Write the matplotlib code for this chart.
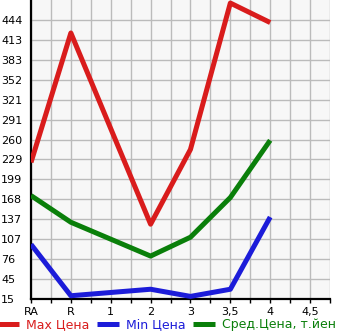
import matplotlib.pyplot as plt
import numpy as np

categories = ["RA", "R", "1", "2", "3", "3,5", "4", "4,5"]
max_price = [225, 424, np.nan, 130, 245, 470, 440, np.nan]
min_price = [99, 20, np.nan, 30, 19, 30, 141, np.nan]
avg_price = [174, 133, np.nan, 81, 110, 171, 259, np.nan]
y_ticks = [15 + 30.646 * k for k in range(15)]
y_labels = ["15", "45", "76", "107", "137", "168", "199", "229",
            "260", "291", "321", "352", "383", "413", "444"]

series = [
    ("Max Цена", max_price, "#d91c1c"),
    ("Min Цена", min_price, "#1c1cd9"),
    ("Сред.Цена, т.йен", avg_price, "#0a7f0a"),
]

W, H = 345, 335
fig = plt.figure(figsize=(W / 100, H / 100), dpi=100)
ax = fig.add_axes([31 / W, (H - 299) / H, (330 - 31) / W, 299 / H])
ax.set_facecolor("#f7f7f7")

x_all = np.arange(len(categories))
for label, vals, color in series:
    v = np.array(vals, dtype=float)
    ok = ~np.isnan(v)
    ax.plot(x_all[ok], v[ok], color=color, lw=3.6, label=label,
            solid_capstyle="butt", zorder=3)

ax.set_xlim(0, 7.5)
ax.set_ylim(15, 15 + 30.646 * 15)
ax.set_xticks(x_all)
ax.set_xticklabels(categories, fontsize=8)
ax.set_xticks(np.arange(0.5, 7.6, 1.0), minor=True)
ax.set_yticks(y_ticks)
ax.set_yticklabels(y_labels, fontsize=8)
for t in ax.get_yticklabels():
    t.set_horizontalalignment("left")

ax.tick_params(axis="y", length=0, pad=21.6)
ax.tick_params(axis="x", which="both", length=3, width=1, pad=3, direction="out")

ax.grid(True, which="both", color="#bbbbbb", lw=1, zorder=0)
ax.set_axisbelow(True)

for spine in ["top", "right"]:
    ax.spines[spine].set_visible(False)
for spine in ["bottom", "left"]:
    ax.spines[spine].set_linewidth(1.6)
    ax.spines[spine].set_color("black")

leg = ax.legend(loc="center", bbox_to_anchor=(0.5 - 14 / 299, -0.085 - 0.0),
                ncol=3, frameon=False, fontsize=9, handlelength=1.76,
                handletextpad=0.6, columnspacing=0.55, borderaxespad=0,
                labelcolor="linecolor", borderpad=0)
for h in leg.get_lines():
    h.set_linewidth(3.6)

fig.savefig("out.png", dpi=100)
